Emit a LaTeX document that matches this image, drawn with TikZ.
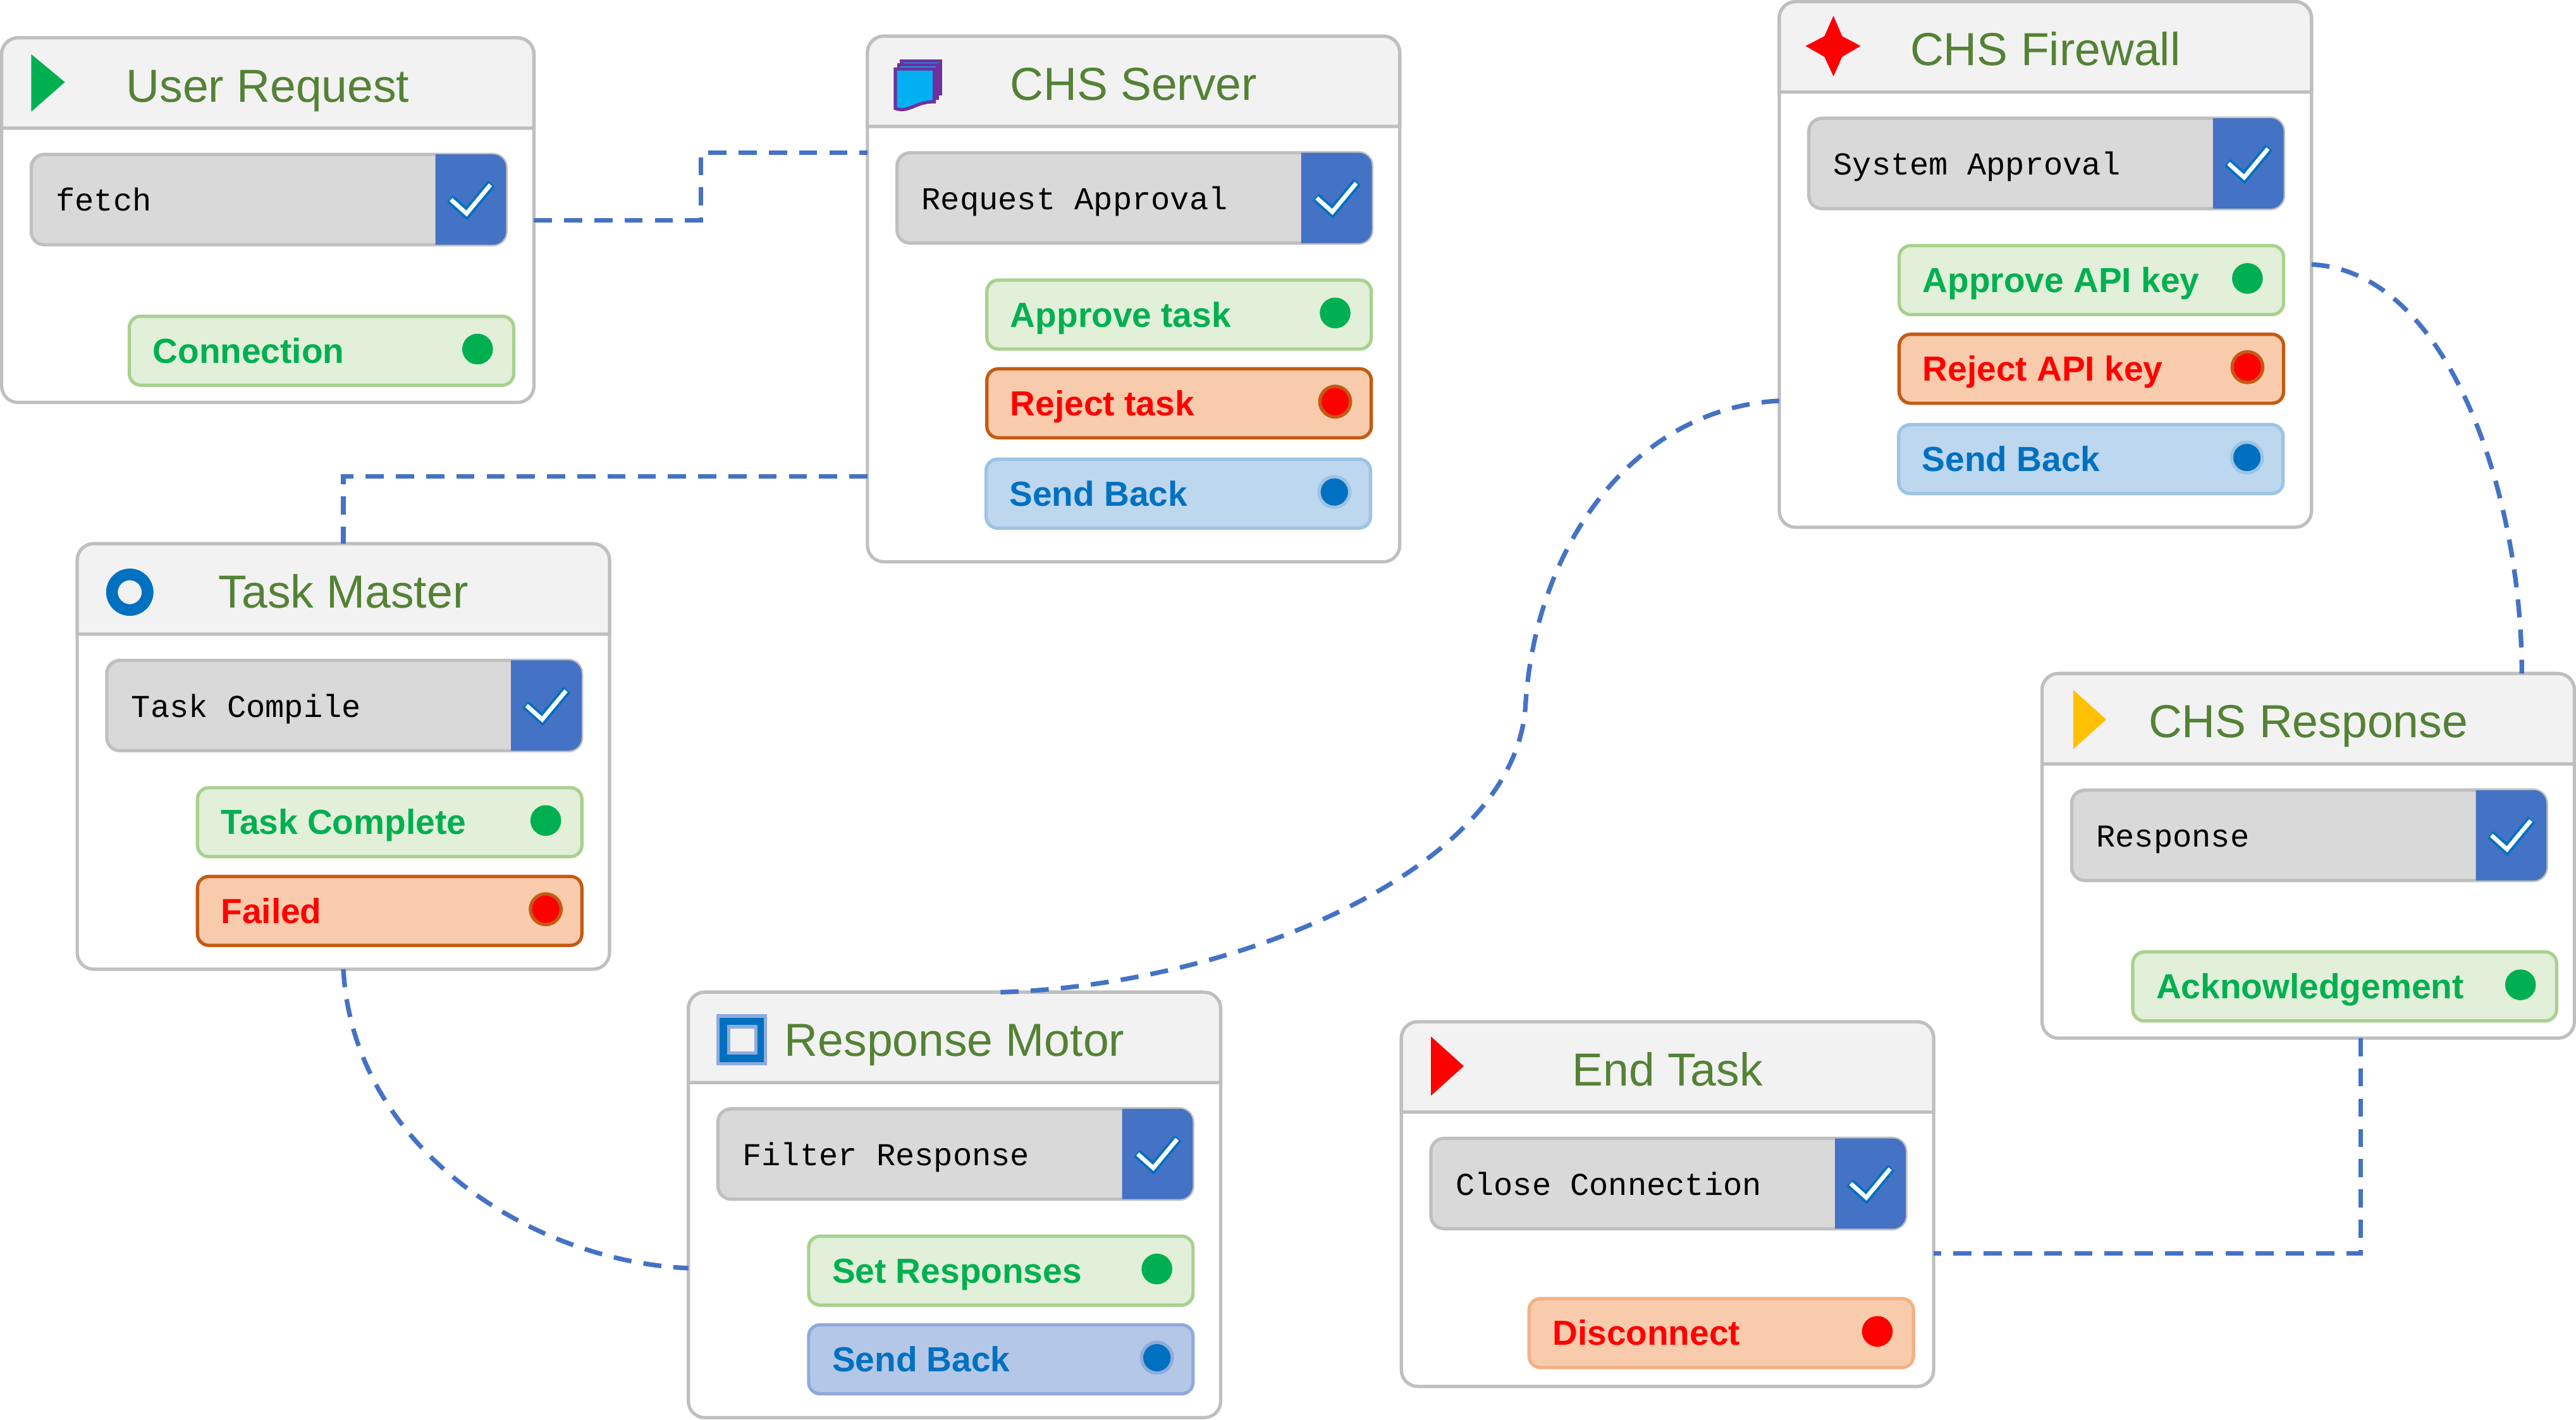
\documentclass[tikz,border=0pt]{standalone}
\usepackage{fontspec}
\setmainfont{Liberation Sans}
\setmonofont{Liberation Mono}
\usetikzlibrary{calc,positioning}
\definecolor{linegray}{HTML}{BFBFBF}
\definecolor{headgray}{HTML}{F2F2F2}
\definecolor{bargray}{HTML}{D9D9D9}
\definecolor{titlegreen}{HTML}{548235}
\definecolor{markblue}{HTML}{4472C4}
\definecolor{inkblue}{HTML}{0070C0}
\definecolor{inkgreen}{HTML}{00B050}
\definecolor{inkamber}{HTML}{FFC000}
\definecolor{goodfill}{HTML}{E2EFD9}
\definecolor{goodline}{HTML}{A9D18E}
\definecolor{badfill}{HTML}{F8CBAD}
\definecolor{badline}{HTML}{C55A11}
\definecolor{softline}{HTML}{F4B183}
\definecolor{backfill}{HTML}{BDD7EE}
\definecolor{backline}{HTML}{9DC3E6}
\definecolor{deepfill}{HTML}{B4C7E7}
\definecolor{deepline}{HTML}{8FAADC}
\definecolor{docpurple}{HTML}{7030A0}
\definecolor{doccyan}{HTML}{00B0F0}
\tikzstyle{panel node}=[rectangle,fill=white,draw=linegray,line width=2pt,rounded corners=10pt,minimum width=324pt,inner sep=0,outer sep=0]
\tikzstyle{head line}=[fill=headgray,draw=linegray,line width=2pt]
\tikzstyle{title node}=[text=titlegreen,font=\fontsize{28.2}{30}\selectfont,inner sep=0,text height=28pt,text depth=5pt]
\tikzstyle{bar node}=[rectangle,fill=bargray,draw=linegray,line width=2pt,rounded corners=8pt,inner xsep=15pt,inner ysep=0,outer sep=0,text width=259pt,minimum height=55pt,text height=20pt,text depth=6pt,font=\ttfamily\fontsize{19.4}{22}\selectfont,align=flush left]
\tikzstyle{pill node}=[rectangle,line width=2pt,rounded corners=7pt,inner xsep=14.3pt,inner ysep=0,outer sep=0,text width=205.4pt,minimum height=42pt,text height=20pt,text depth=5pt,font=\bfseries\fontsize{21.2}{24}\selectfont,align=flush left,xshift=.7pt,yshift=-.5pt]
\tikzstyle{good node}=[pill node,fill=goodfill,draw=goodline,text=inkgreen]
\tikzstyle{bad node}=[pill node,fill=badfill,draw=badline,text=red]
\tikzstyle{soft node}=[pill node,fill=badfill,draw=softline,text=red]
\tikzstyle{back node}=[pill node,fill=backfill,draw=backline,text=inkblue]
\tikzstyle{deep node}=[pill node,fill=deepfill,draw=deepline,text=inkblue]
\tikzstyle{dot node}=[circle,inner sep=0,minimum size=18.7pt,line width=2pt]
\tikzstyle{good dot}=[dot node,fill=inkgreen]
\tikzstyle{bad dot}=[dot node,fill=red,draw=badline]
\tikzstyle{soft dot}=[dot node,fill=red]
\tikzstyle{back dot}=[dot node,fill=inkblue,draw=backline]
\tikzstyle{deep dot}=[dot node,fill=inkblue,draw=deepline]
\tikzstyle{link}=[draw=markblue,line width=2.8pt,dash pattern=on 11pt off 7.4pt]
\tikzstyle{doc sheet}=[fill=doccyan,draw=docpurple,line width=2pt]
% name, left, top, height, title, bar text
\newcommand{\panelbox}[6]{
	\node(#1)[panel node,anchor=north west,minimum height=#4pt] at (#2,#3){};
	\draw[head line] ($(#1.north west)+(0,55)$) [rounded corners=10pt] -- (#1.north west) -- (#1.north east) [sharp corners] -- ($(#1.north east)+(0,55)$) -- cycle;
	\node(#1title)[title node] at ($(#1.north)+(0,27.5)$){#5};
	\node(#1bar)[bar node,anchor=north west] at ($(#1.north west)+(18,71)$){#6};
	\fill[markblue] ($(#1bar.north east)+(-43,0)$) [rounded corners=8pt] -- (#1bar.north east) -- (#1bar.south east) [sharp corners] -- ($(#1bar.south east)+(-43,0)$) -- cycle;
	\draw[inkblue,line width=5.6pt] ($(#1bar.north east)+(-34,27)$) -- ($(#1bar.north east)+(-24,36)$) -- ($(#1bar.north east)+(-9,18)$);
	\draw[white,line width=2.6pt] ($(#1bar.north east)+(-33.5,27.5)$) -- ($(#1bar.north east)+(-24,36)$) -- ($(#1bar.north east)+(-9.5,18.5)$);
}
% name, left, top, kind, text
\newcommand{\pillbox}[6][]{
	\node(#2)[#5 node,anchor=north west,#1] at (#3,#4){#6};
	\node(#2dot)[#5 dot] at ($(#2.east)+(-22,-1)$){};
}
\begin{document}
\begin{tikzpicture}[x=1pt,y=-1pt]
	\useasboundingbox (0,0) rectangle (1568,864.4);

	\panelbox{ureq}{1}{23}{222}{User Request}{fetch}
	\fill[inkgreen] (19,33) -- (39.5,50) -- (19,68) -- cycle;
	\pillbox{conn}{78}{192}{good}{Connection}

	\panelbox{srv}{528}{22}{320}{CHS Server}{Request Approval}
	\draw[doc sheet] (548.8,37.2) -- (572.5,37.2) -- (572.5,57) -- (548.8,57) -- cycle;
	\draw[doc sheet] (547,39.6) -- (570.6,39.6) -- (570.6,59.7) -- (547,59.7) -- cycle;
	\draw[doc sheet] (545,42) -- (568.7,42) -- (568.7,62) .. controls (558,61.5) and (553,69) .. (545,66) -- cycle;
	\pillbox{srvok}{600}{170}{good}{Approve task}
	\pillbox{srvno}{600}{224}{bad}{Reject task}
	\pillbox{srvbk}{599.5}{279}{back}{Send Back}

	\panelbox{fw}{1083}{1}{320}{CHS Firewall}{System Approval}
	\fill[red] (1116,9.6) -- (1121.3,22) -- (1132.5,28) -- (1121.3,34.6) -- (1116,46.5) -- (1110.5,34.6) -- (1099,28) -- (1110.5,22) -- cycle;
	\pillbox{fwok}{1155.3}{149}{good}{Approve API key}
	\pillbox{fwno}{1155.3}{203}{bad}{Reject API key}
	\pillbox{fwbk}{1155}{258}{back}{Send Back}

	\panelbox{tm}{47}{331}{259}{Task Master}{Task Compile}
	\draw[inkblue,line width=7.1pt] (79,360.5) circle (10.85pt);
	\pillbox{tmok}{119.5}{479}{good}{Task Complete}
	\pillbox{tmno}{119.5}{533}{bad}{Failed}

	\panelbox{rm}{419}{604}{259}{Response Motor}{Filter Response}
	\fill[inkblue,draw=deepline,line width=2pt] (437,618.5) rectangle (466,647.5);
	\fill[headgray,draw=deepline,line width=2pt] (443.5,625) rectangle (460,641);
	\pillbox{rmok}{491.5}{752}{good}{Set Responses}
	\pillbox{rmbk}{491.5}{806}{deep}{Send Back}

	\panelbox{et}{853}{622}{222}{End Task}{Close Connection}
	\fill[red] (871,631) -- (891,649) -- (871,667) -- cycle;
	\pillbox{etno}{930}{790}{soft}{Disconnect}

	\panelbox{rsp}{1243}{410}{222}{CHS Response}{Response}
	\fill[inkamber] (1262,420) -- (1282,438) -- (1262,456) -- cycle;
	\pillbox[text width=229.4pt]{rspok}{1297.5}{579}{good}{Acknowledgement}

	% free ends on the panel sides
	\coordinate (srvin) at (528,93);
	\coordinate (srvout) at (528,290);
	\coordinate (fwin) at (1083,244);
	\coordinate (rmtop) at (609,604);
	\coordinate (rmin) at (419,772);
	\coordinate (rsptop) at (1535,410);
	\coordinate (rspout) at (1437,632);
	\coordinate (etout) at (1177,763);

	\draw[link] (ureq.east) -| ($(ureq.east)!.5!(srvin)$) |- (srvin);
	\draw[link] (srvout) -| (tm.north);
	\draw[link] (tm.south) .. controls (215,700) and (325,768) .. (rmin);
	\draw[link] (rmtop) .. controls (750,600) and (922,530) .. (928.5,430) .. controls (935,325) and (1000,248) .. (fwin);
	\draw[link] (fw.east) .. controls (1490,165) and (1535,300) .. (rsptop);
	\draw[link] (rspout) |- (etout);
\end{tikzpicture}
\end{document}
